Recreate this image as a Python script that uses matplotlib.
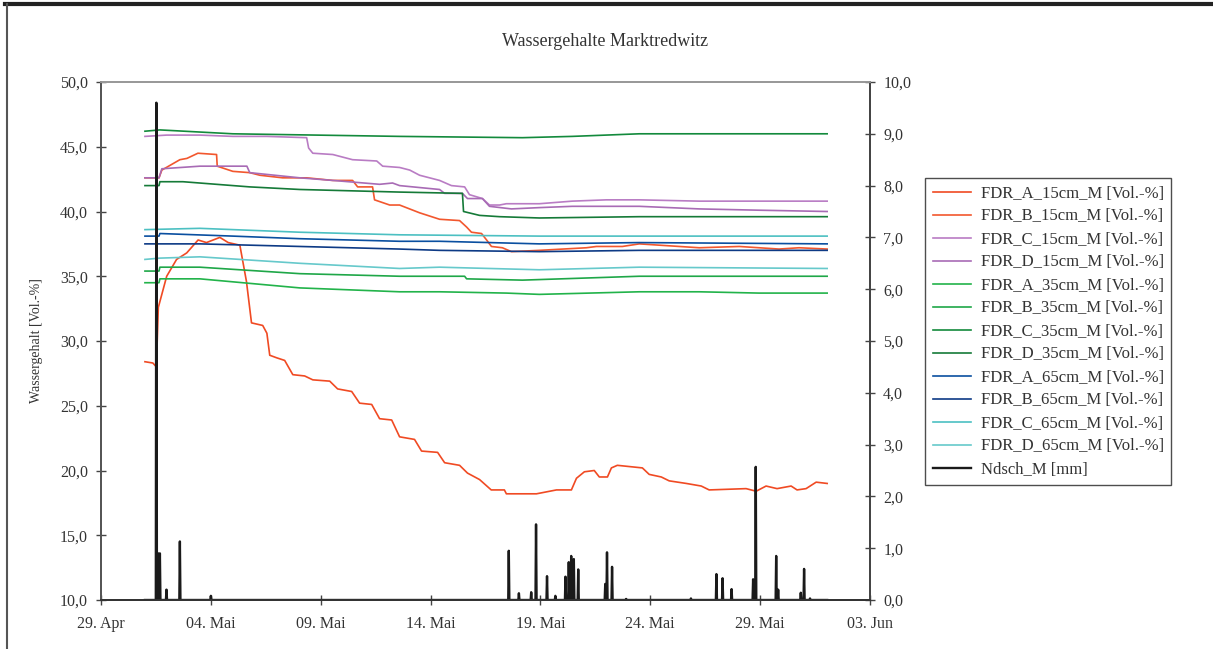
import matplotlib
matplotlib.use("Agg")
import matplotlib.pyplot as plt
from matplotlib.lines import Line2D
from matplotlib.ticker import FuncFormatter

plt.rcParams['font.family'] = ['Liberation Serif', 'DejaVu Serif']

# x values: days since 29. Apr 00:00
tick_days = [0, 5, 10, 15, 20, 25, 30, 35]
tick_labels = ["29. Apr", "04. Mai", "09. Mai", "14. Mai", "19. Mai", "24. Mai", "29. Mai", "03. Jun"]

a15_t = [2.00, 2.36, 2.52, 2.61, 2.99, 3.44, 3.90, 4.42, 4.80, 5.41, 5.79, 6.32, 6.62, 6.85, 7.36,
         7.55, 7.68, 8.00, 8.36, 8.73, 9.27, 9.64, 10.41, 10.77, 11.41, 11.77, 12.32, 12.68, 13.23,
         13.59, 14.27, 14.59, 15.32, 15.64, 16.32, 16.68, 17.23, 17.76, 18.36, 18.45, 19.82, 20.73,
         21.41, 21.64, 22.00, 22.45, 22.68, 23.05, 23.23, 23.50, 24.64, 24.95, 25.50, 25.86, 26.64,
         27.32, 27.68, 29.36, 29.82, 30.27, 30.77, 31.41, 31.68, 32.09, 32.55, 33.05]
a15_v = [28.4, 28.3, 28.0, 32.6, 35.0, 36.3, 36.8, 37.8, 37.6, 38.0, 37.6, 37.4, 34.6, 31.4, 31.2,
         30.6, 28.9, 28.7, 28.5, 27.4, 27.3, 27.0, 26.9, 26.3, 26.1, 25.2, 25.1, 24.0, 23.9,
         22.6, 22.4, 21.5, 21.4, 20.6, 20.4, 19.8, 19.3, 18.5, 18.5, 18.2, 18.2, 18.5,
         18.5, 19.4, 19.9, 20.0, 19.5, 19.5, 20.2, 20.4, 20.2, 19.7, 19.5, 19.2, 19.0,
         18.8, 18.5, 18.6, 18.4, 18.8, 18.6, 18.8, 18.5, 18.6, 19.1, 19.0]

b15_t = [2.00, 2.64, 2.77, 3.59, 3.91, 4.41, 5.26, 5.29, 6.00, 6.77, 7.23, 8.27, 9.36, 10.55, 11.45,
         11.68, 12.36, 12.45, 13.14, 13.59, 14.50, 15.41, 16.32, 16.64, 16.86, 17.32, 17.55, 17.77,
         18.27, 18.68, 19.95, 22.09, 22.55, 23.73, 24.50, 25.41, 27.23, 29.05, 30.86, 31.77, 33.05]
b15_v = [42.6, 42.6, 43.2, 44.0, 44.1, 44.5, 44.4, 43.5, 43.1, 43.0, 42.8, 42.6, 42.6, 42.4, 42.4,
         41.9, 41.9, 40.9, 40.5, 40.5, 39.9, 39.4, 39.3, 38.8, 38.4, 38.3, 37.8, 37.3,
         37.2, 36.9, 37.0, 37.2, 37.3, 37.3, 37.5, 37.4, 37.2, 37.3, 37.1, 37.2, 37.1]

c15_t = [2.00, 2.99, 4.50, 6.00, 7.55, 9.36, 9.45, 9.64, 10.55, 11.45, 12.55, 12.82, 13.59, 14.05,
         14.50, 15.41, 15.95, 16.55, 16.77, 17.36, 17.68, 18.14, 18.45, 19.95, 21.45, 23.00, 24.50,
         27.23, 29.95, 33.05]
c15_v = [45.8, 45.9, 45.9, 45.8, 45.8, 45.7, 44.9, 44.5, 44.4, 44.0, 43.9, 43.5, 43.4, 43.2,
         42.8, 42.4, 42.0, 41.9, 41.3, 41.0, 40.5, 40.5, 40.6, 40.6, 40.8, 40.9, 40.9,
         40.8, 40.8, 40.8]

d15_t = [2.00, 2.64, 2.77, 4.50, 6.64, 6.77, 9.05, 10.55, 12.68, 13.27, 13.59, 15.41, 15.64, 16.45,
         16.68, 17.36, 17.68, 18.68, 19.95, 21.45, 24.50, 27.23, 29.95, 33.05]
d15_v = [42.6, 42.6, 43.3, 43.5, 43.5, 43.0, 42.6, 42.4, 42.1, 42.2, 42.0, 41.7, 41.4, 41.4,
         41.0, 41.0, 40.4, 40.2, 40.3, 40.4, 40.4, 40.2, 40.1, 40.0]

a35_t = [2.00, 2.64, 2.68, 4.50, 9.05, 13.59, 15.41, 18.45, 19.95, 24.50, 27.23, 29.95, 33.05]
a35_v = [34.5, 34.5, 34.8, 34.8, 34.1, 33.8, 33.8, 33.7, 33.6, 33.8, 33.8, 33.7, 33.7]

b35_t = [2.00, 2.64, 2.68, 4.50, 9.05, 13.59, 16.55, 16.64, 19.18, 24.50, 27.23, 33.05]
b35_v = [35.4, 35.4, 35.7, 35.7, 35.2, 35.0, 35.0, 34.8, 34.7, 35.0, 35.0, 35.0]

c35_t = [2.00, 2.68, 6.00, 13.59, 19.18, 21.45, 24.50, 33.05]
c35_v = [46.2, 46.3, 46.0, 45.8, 45.7, 45.8, 46.0, 46.0]

d35_t = [2.00, 2.64, 2.68, 3.73, 6.77, 9.05, 13.59, 16.45, 16.50, 17.23, 18.14, 19.95, 24.50, 33.05]
d35_v = [42.0, 42.0, 42.3, 42.3, 41.9, 41.7, 41.5, 41.4, 40.0, 39.7, 39.6, 39.5, 39.6, 39.6]

a65_t = [2.00, 2.64, 2.68, 6.00, 9.05, 13.59, 15.41, 19.95, 24.50, 33.05]
a65_v = [38.1, 38.1, 38.3, 38.1, 37.9, 37.7, 37.7, 37.5, 37.6, 37.5]

b65_t = [2.00, 4.50, 9.05, 13.59, 15.41, 19.95, 24.50, 33.05]
b65_v = [37.5, 37.5, 37.3, 37.1, 37.0, 36.9, 37.0, 37.0]

c65_t = [2.00, 4.50, 9.05, 13.59, 19.95, 24.50, 33.05]
c65_v = [38.6, 38.7, 38.4, 38.2, 38.1, 38.1, 38.1]

d65_t = [2.00, 2.68, 4.50, 9.05, 13.59, 15.41, 19.95, 24.50, 33.05]
d65_v = [36.3, 36.4, 36.5, 36.0, 35.6, 35.7, 35.5, 35.7, 35.6]

# precipitation events (day, mm)
rain_t = [2.52, 2.60, 2.64, 2.68, 2.98, 3.59, 5.00, 18.56, 19.02, 19.58, 19.80, 20.30, 20.68,
          21.14, 21.29, 21.40, 21.52, 21.72, 22.95, 23.03, 23.26, 23.90, 26.85, 28.01, 28.29,
          28.70, 29.68, 29.80, 30.73, 30.82, 31.85, 32.00, 32.27]
rain_mm = [9.6, 0.9, 0.4, 0.9, 0.2, 1.13, 0.08, 0.95, 0.13, 0.15, 1.46, 0.46, 0.08,
           0.45, 0.73, 0.85, 0.79, 0.59, 0.31, 0.92, 0.64, 0.02, 0.03, 0.5, 0.42,
           0.21, 0.4, 2.57, 0.85, 0.2, 0.14, 0.6, 0.03]

series = [
    ("FDR_A_15cm_M [Vol.-%]", a15_t, a15_v, "#f04a23"),
    ("FDR_B_15cm_M [Vol.-%]", b15_t, b15_v, "#f2572e"),
    ("FDR_C_15cm_M [Vol.-%]", c15_t, c15_v, "#b97cc4"),
    ("FDR_D_15cm_M [Vol.-%]", d15_t, d15_v, "#a86bb5"),
    ("FDR_A_35cm_M [Vol.-%]", a35_t, a35_v, "#22b34a"),
    ("FDR_B_35cm_M [Vol.-%]", b35_t, b35_v, "#1fa748"),
    ("FDR_C_35cm_M [Vol.-%]", c35_t, c35_v, "#138a3c"),
    ("FDR_D_35cm_M [Vol.-%]", d35_t, d35_v, "#157a38"),
    ("FDR_A_65cm_M [Vol.-%]", a65_t, a65_v, "#0a4fa0"),
    ("FDR_B_65cm_M [Vol.-%]", b65_t, b65_v, "#0d3a85"),
    ("FDR_C_65cm_M [Vol.-%]", c65_t, c65_v, "#4cc0c2"),
    ("FDR_D_65cm_M [Vol.-%]", d65_t, d65_v, "#66c9cb"),
]

txt = "#333333"
fig = plt.figure(figsize=(12.13, 6.49), dpi=100)
ax = fig.add_axes([101 / 1213, 1 - 600 / 649, 769 / 1213, 518 / 649])
ax2 = ax.twinx()

handles = []
for label, t, v, c in series:
    h, = ax.plot(t, v, color=c, lw=1.2, label=label)
    handles.append(h)

# spike series for precipitation: zero before and after each event
rx, ry = [2.0], [0.0]
for t, v in zip(rain_t, rain_mm):
    rx += [t - 0.025, t, t + 0.025]
    ry += [0.0, v, 0.0]
rx.append(33.05)
ry.append(0.0)
h, = ax2.plot(rx, ry, color="#1a1a1a", lw=1.7, label="Ndsch_M [mm]")
handles.append(h)

ax.set_xlim(0, 35)
ax.set_ylim(10, 50)
ax2.set_ylim(0, 10)
ax.set_xticks(tick_days)
ax.set_xticklabels(tick_labels)
ax.set_yticks(range(10, 51, 5))
ax2.set_yticks(range(0, 11))
fmt = FuncFormatter(lambda v, p: f"{v:.1f}".replace(".", ","))
ax.yaxis.set_major_formatter(fmt)
ax2.yaxis.set_major_formatter(fmt)

for a in (ax, ax2):
    a.tick_params(direction="inout", length=7, width=1, colors="#444444",
                  labelcolor=txt, labelsize=11.5)
    a.spines["top"].set_color("#999999")
    a.spines["left"].set_color("#555555")
    a.spines["right"].set_color("#444444")
    a.spines["bottom"].set_color("#333333")
    for s in a.spines.values():
        s.set_linewidth(1.3)
ax.tick_params(axis="y", pad=6)
ax.tick_params(axis="x", pad=8)
ax2.tick_params(axis="y", pad=6)

ax.set_ylabel("Wassergehalt [Vol.-%]", fontsize=10, color=txt, labelpad=12)
fig.text(0.499, 1 - 41 / 649, "Wassergehalte Marktredwitz", ha="center", va="center",
         fontsize=13, color=txt)

leg = fig.legend(handles=handles, loc="upper left", bbox_to_anchor=(925 / 1213, 1 - 178 / 649),
                 borderaxespad=0, fontsize=12, frameon=True, fancybox=False,
                 edgecolor="#222222", labelspacing=0.42, handlelength=2.3, borderpad=0.45,
                 handletextpad=0.6)
leg.get_frame().set_linewidth(1.0)
for t in leg.get_texts():
    t.set_color(txt)

# outer chart frame
fig.add_artist(Line2D([0.004, 1.0], [0.994, 0.994], transform=fig.transFigure,
                      color="#222222", lw=3))
fig.add_artist(Line2D([0.006, 0.006], [0.0, 0.994], transform=fig.transFigure,
                      color="#555555", lw=1.5))

fig.savefig("out.png", dpi=100)
